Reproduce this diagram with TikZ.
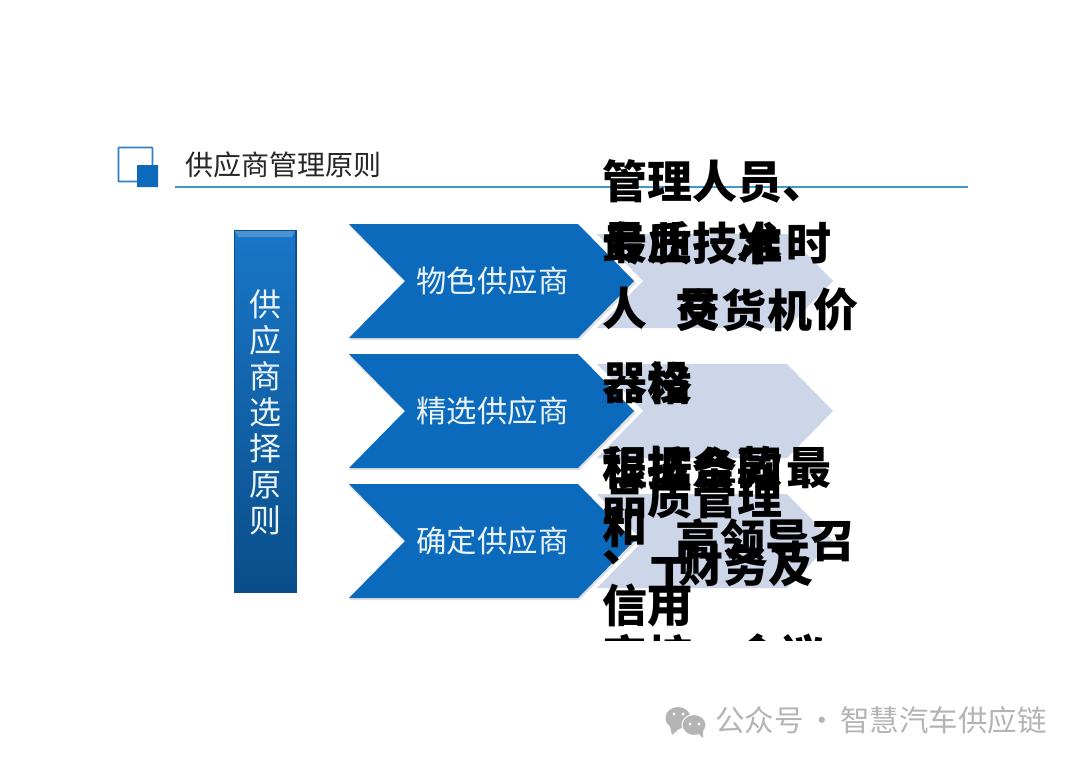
\documentclass[tikz,border=0pt]{standalone}
\usepackage{fontspec}
\setmainfont{Noto Sans CJK SC}
\usepackage{xcolor}
\usetikzlibrary{calc}
\definecolor{cdark}{HTML}{0B6ABB}
\definecolor{cbar}{HTML}{0D6FC4}
\definecolor{cbardeep}{HTML}{0A4F8C}
\definecolor{clight}{HTML}{CDD6E8}
\definecolor{crule}{HTML}{3F97CC}
\definecolor{cink}{HTML}{262626}
\definecolor{cmark}{HTML}{B4B4B4}

\begin{document}
\begin{tikzpicture}[
  x=1pt, y=-1pt,
  headlab/.style={anchor=west, inner sep=0pt, text=cink, font=\fontsize{28}{28}\selectfont},
  stagelab/.style={inner sep=0pt, text=white!92!cdark, font=\fontsize{30.4}{30.4}\selectfont},
  barlab/.style={inner sep=0pt, align=center, text=white!92!cdark, font=\fontsize{32}{36}\selectfont},
  spill/.style={anchor=west, inner sep=0pt, text=black, font=\fontsize{45}{45}\selectfont\bfseries},
  marklab/.style={anchor=west, inner sep=0pt, text=cmark, font=\fontsize{29.5}{29.5}\selectfont},
]
\useasboundingbox (0,0) rectangle (1080,764);
\fill[white] (0,0) rectangle (1080,764);
% ---------- heading ----------
\node[headlab] (head) at (185,165) {供应商管理原则};
\coordinate (ruleL) at (175,187);
\coordinate (ruleR) at (968,187);
\draw[crule, line width=1.3pt] (ruleL) -- (ruleR);
\draw[cdark!85, line width=1.6pt, fill=white, rounded corners=0.5pt] (118.5,147.5) rectangle (152.5,181.5);
\fill[cdark, rounded corners=0.5pt] (137,165) rectangle (158,187);
% ---------- left bar ----------
\fill[cbardeep] (234,230) rectangle (297,593);
\shade[top color=cbar!95!white, bottom color=cbar!70!black] (235,231) rectangle (295,592);
\fill[cbar!75!white] (235,231) -- (295,231) -- (292,237) -- (238,237) -- cycle;
\node[barlab] (barlab) at (265,412) {供\\应\\商\\选\\择\\原\\则};
% ---------- stages ----------
\foreach \y/\lab/\nm in {281/物色供应商/find, 411/精选供应商/pick, 541/确定供应商/fix}{
  \fill[clight] (597,\y-47) -- (787,\y-47) -- (833,\y) -- (787,\y+47) -- (597,\y+47) -- (643,\y) -- cycle;
  \fill[black!12] (349,\y-55) -- (579,\y-55) -- (636,\y+2) -- (579,\y+59) -- (349,\y+59) -- (406,\y+2) -- cycle;
  \fill[cdark] (349,\y-57) -- (578,\y-57) -- (634,\y) -- (578,\y+57) -- (349,\y+57) -- (405,\y) -- cycle;
  \node[stagelab] (\nm) at (492.5,\y) {\lab};
}
% ---------- overflowing text, cut off at the bottom ----------
\begin{scope}
\clip (590,140) rectangle (880,640);
\foreach \x/\y/\t in {602/181/管理人员、, 602/243/专业技术, 602/243/最, 647/243/质, 737/243/准, 786/243/时,
  602/308/人, 675/310/员, 675/310/交, 721/310/货, 767/310/机, 813/310/价,
  602/383/器, 647/383/设, 647/383/格, 602/468/程, 602/468/根, 647/468/据, 647/468/按,
  692/468/条, 737/468/款, 692/468/合, 737/468/同, 786/468/最,
  602/497/品质管理, 602/527/和, 602/558/、, 647/575/工,
  675/540/高领导召, 678/565/财务及, 602/605/信用, 602/656/审核, 735/656/会议}{
  \node[spill] at (\x,\y) {\t};
}
\end{scope}
% ---------- account mark ----------
\fill[cmark] (678,718) ellipse (12.5 and 11);
\fill[cmark] (670,726) -- (672,735) -- (680,728) -- cycle;
\draw[white, line width=1pt, fill=cmark] (694,725) ellipse (12 and 10.5);
\fill[cmark] (698,733) -- (703,738) -- (703,730) -- cycle;
\foreach \x/\y in {674/714, 683/714, 690/724, 699/724}{
  \fill[white] (\x,\y) circle (1.6);
}
\node[marklab] (account) at (715,720) {公众号\hspace{0.12em}·\hspace{0.12em}智慧汽车供应链};
\end{tikzpicture}
\end{document}
